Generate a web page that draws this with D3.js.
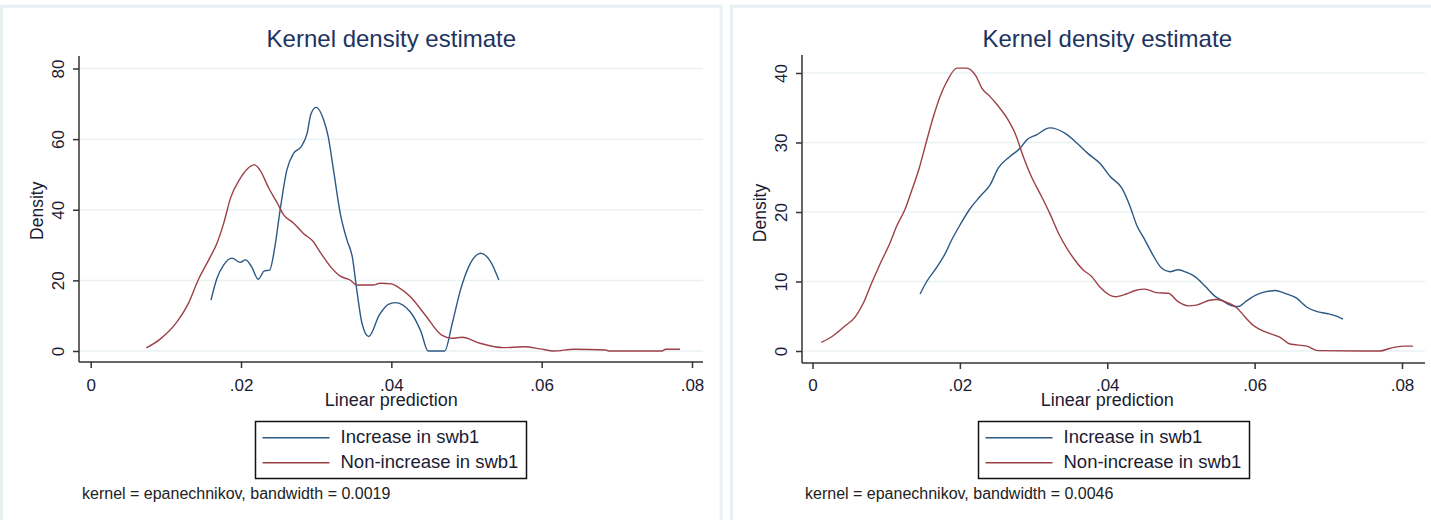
<!DOCTYPE html>
<html lang="en">
<head>
<meta charset="UTF-8">
<title>Kernel density estimate</title>
<script src="https://d3js.org/d3.v7.min.js"></script>
<style>
    body { margin: 0; background: #fff; font-family: "Liberation Sans", Arial, sans-serif; }
    svg text { fill: #1b1b33; }
    .title { font-size: 24px; fill: #1d3461; text-anchor: middle; }
    .axis-title { font-size: 18px; text-anchor: middle; }
    .y-title { font-size: 17.5px; text-anchor: middle; }
    .tick-label { font-size: 17px; }
    .legend-text { font-size: 18.5px; }
    .note { font-size: 16px; fill: #222; }
</style>
</head>
<body>
<div id="chart"></div>
<script>
// x tick values and labels (shared by both panels)
const xTicks = [0, 0.02, 0.04, 0.06, 0.08];
const xTickLabels = ["0", ".02", ".04", ".06", ".08"];

const leftYTicks = [0, 20, 40, 60, 80];
const rightYTicks = [0, 10, 20, 30, 40];

const seriesNames = ["Increase in swb1", "Non-increase in swb1"];
const seriesColors = ["#2c5985", "#9d4047"];

// left panel: bandwidth 0.0019
const leftIncrease = [
    [0.0160,14.4],[0.0168,20.6],[0.0177,24.4],[0.0188,26.3],[0.0199,25.1],[0.0206,25.8],
    [0.0214,23.9],[0.0223,20.3],[0.0231,22.7],[0.0238,22.9],[0.0245,29.5],[0.0252,39.9],
    [0.0261,51.3],[0.0270,56.0],[0.0280,57.9],[0.0288,61.7],[0.0293,67.1],[0.0300,69.0],
    [0.0310,65.4],[0.0316,60.7],[0.0323,51.3],[0.0332,39.0],[0.0341,31.4],[0.0348,26.7],
    [0.0354,17.3],[0.0361,7.8],[0.0370,4.1],[0.0384,10.2],[0.0396,13.2],[0.0405,13.7],
    [0.0425,11.1],[0.0439,5.7],[0.0449,0],[0.0471,0],[0.0481,7.8],[0.0492,17.3],
    [0.0503,23.9],[0.0519,27.7],[0.0532,25.3],[0.0543,20.1]
];
const leftNonIncrease = [
    [0.0074,0.9],[0.0092,3.3],[0.0115,8.3],[0.0130,13.5],[0.0143,20.1],[0.0157,25.8],
    [0.0168,30.5],[0.0177,36.2],[0.0186,43.3],[0.0199,48.9],[0.0208,51.5],[0.0218,52.7],
    [0.0225,51.3],[0.0237,46.1],[0.0248,42.0],[0.0257,38.5],[0.0270,36.2],[0.0283,33.3],
    [0.0296,31.0],[0.0305,28.1],[0.0319,23.9],[0.0332,21.2],[0.0345,20.1],[0.0354,18.7],
    [0.0376,18.7],[0.0385,19.2],[0.0400,19.0],[0.0409,18.1],[0.0425,15.4],[0.0445,10.2],
    [0.0467,4.5],[0.0481,3.6],[0.0494,3.9],[0.0518,2.2],[0.0549,0.95],[0.0576,1.2],
    [0.0598,0.6],[0.0616,0],[0.0643,0.5],[0.0685,0.3],[0.0689,0],[0.0760,0],
    [0.0765,0.5],[0.0784,0.5]
];

// right panel: bandwidth 0.0046
const rightIncrease = [
    [0.0146,8.2],[0.0155,10.0],[0.0169,12.1],[0.0180,14.0],[0.0189,16.0],[0.0200,18.1],
    [0.0214,20.5],[0.0227,22.2],[0.0241,23.9],[0.0252,26.3],[0.0268,28.0],[0.0282,29.2],
    [0.0291,30.4],[0.0304,31.1],[0.0322,32.1],[0.0343,31.3],[0.0359,29.9],[0.0374,28.4],
    [0.0390,27.0],[0.0404,25.1],[0.0420,23.4],[0.0431,20.8],[0.0440,18.1],[0.0451,16.0],
    [0.0462,13.8],[0.0474,11.9],[0.0485,11.4],[0.0496,11.7],[0.0508,11.3],[0.0519,10.7],
    [0.0533,9.3],[0.0546,7.9],[0.0557,7.2],[0.0569,6.5],[0.0578,6.4],[0.0589,7.2],
    [0.0603,8.1],[0.0614,8.5],[0.0628,8.7],[0.0641,8.3],[0.0657,7.6],[0.0671,6.3],
    [0.0684,5.7],[0.0698,5.4],[0.0709,5.1],[0.0720,4.6]
];
const rightNonIncrease = [
    [0.0012,1.25],[0.0028,2.2],[0.0044,3.6],[0.0058,4.9],[0.0069,6.9],[0.0080,9.7],
    [0.0092,12.6],[0.0105,15.5],[0.0114,17.9],[0.0126,20.5],[0.0135,23.2],[0.0144,26.0],
    [0.0154,29.9],[0.0164,33.7],[0.0173,36.6],[0.0182,38.7],[0.0196,40.7],[0.0209,40.7],
    [0.0221,39.7],[0.0230,37.8],[0.0241,36.6],[0.0250,35.5],[0.0264,33.5],[0.0275,31.3],
    [0.0286,28.0],[0.0297,25.1],[0.0311,22.2],[0.0322,19.8],[0.0334,16.9],[0.0345,14.8],
    [0.0356,13.1],[0.0367,11.7],[0.0379,10.7],[0.0390,9.2],[0.0411,7.8],[0.0426,8.2],
    [0.0438,8.7],[0.0451,8.9],[0.0467,8.4],[0.0483,8.3],[0.0496,7.1],[0.0510,6.5],
    [0.0521,6.6],[0.0539,7.3],[0.0548,7.4],[0.0562,7.0],[0.0576,6.2],[0.0587,4.9],
    [0.0598,3.7],[0.0607,3.1],[0.0621,2.5],[0.0634,2.0],[0.0648,1.0],[0.0671,0.7],
    [0.0686,0.05],[0.0770,0],[0.0784,0.4],[0.0802,0.7],[0.0815,0.7]
];

const leftNote = "kernel = epanechnikov, bandwidth = 0.0019";
const rightNote = "kernel = epanechnikov, bandwidth = 0.0046";

const svg = d3.select("#chart").append("svg")
    .attr("width", 1431)
    .attr("height", 520);

function drawPanel(p) {
    const g = svg.append("g").attr("transform", `translate(${p.left},0)`);

    // light frame around the graph region
    g.append("rect")
        .attr("x", 1.5).attr("y", 6.2)
        .attr("width", p.frameWidth).attr("height", 540)
        .attr("fill", "none")
        .attr("stroke", "#e8f0f2")
        .attr("stroke-width", 3);

    const x = d3.scaleLinear().domain([0, 0.08]).range([p.x0, p.x1]);
    const y = d3.scaleLinear().domain([0, p.yMax]).range([351, p.yTop]);

    // gridlines
    g.append("g").selectAll("line")
        .data(p.yTicks)
        .join("line")
        .attr("x1", p.axisX + 1).attr("x2", p.axisRight)
        .attr("y1", d => y(d)).attr("y2", d => y(d))
        .attr("stroke", "#eaf1f3")
        .attr("stroke-width", 1.5);

    const line = d3.line()
        .x(d => x(d[0]))
        .y(d => y(d[1]))
        .curve(d3.curveMonotoneX);

    [p.increase, p.nonIncrease].forEach((s, i) => {
        g.append("path")
            .datum(s)
            .attr("fill", "none")
            .attr("stroke", seriesColors[i])
            .attr("stroke-width", 1.4)
            .attr("d", line);
    });

    // x axis
    const xAxis = g.append("g")
        .attr("transform", `translate(0,${p.axisY})`)
        .call(d3.axisBottom(x).tickValues(xTicks).tickSize(6).tickSizeOuter(0)
            .tickFormat((d, i) => xTickLabels[i]));
    xAxis.select(".domain").attr("d", `M${p.axisX},0H${p.axisRight}`);
    xAxis.selectAll("line, .domain").attr("stroke", "#333").attr("stroke-width", 1.5);
    xAxis.selectAll("text").attr("class", "tick-label").attr("font-family", null)
        .attr("font-size", null).attr("fill", null).attr("dy", null)
        .attr("y", 390.5 - p.axisY);

    // y axis
    const yAxis = g.append("g")
        .attr("transform", `translate(${p.axisX},0)`)
        .call(d3.axisLeft(y).tickValues(p.yTicks).tickSize(6).tickSizeOuter(0));
    yAxis.select(".domain").attr("d", `M0,${p.axisTop}V${p.axisY}`);
    yAxis.selectAll("line, .domain").attr("stroke", "#333").attr("stroke-width", 1.5);
    yAxis.selectAll("text").attr("class", "tick-label").attr("font-family", null)
        .attr("font-size", null).attr("fill", null)
        .attr("x", null).attr("dy", null)
        .attr("text-anchor", "middle")
        .attr("transform", "translate(-15,0) rotate(-90)");

    const cx = (p.x0 + p.x1) / 2;

    g.append("text").attr("class", "title")
        .attr("x", cx).attr("y", 47)
        .text("Kernel density estimate");

    g.append("text").attr("class", "axis-title")
        .attr("x", cx).attr("y", 405.5)
        .text("Linear prediction");

    g.append("text").attr("class", "y-title")
        .attr("transform", `translate(${p.axisX - 36},${(351 + p.yTop) / 2 + 1}) rotate(-90)`)
        .text("Density");

    // legend
    const lg = g.append("g").attr("transform", `translate(${p.legendX},421.5)`);
    lg.append("rect")
        .attr("width", 271).attr("height", 57)
        .attr("fill", "#fff")
        .attr("stroke", "#111")
        .attr("stroke-width", 1.5);
    seriesNames.forEach((name, i) => {
        const ly = 16.3 + i * 25;
        lg.append("line")
            .attr("x1", 7).attr("x2", 74)
            .attr("y1", ly).attr("y2", ly)
            .attr("stroke", seriesColors[i])
            .attr("stroke-width", 1.5);
        lg.append("text").attr("class", "legend-text")
            .attr("x", 85).attr("y", ly + 5.5)
            .text(name);
    });

    g.append("text").attr("class", "note")
        .attr("x", p.axisX + 3).attr("y", 499)
        .text(p.note);
}

drawPanel({
    left: 0, frameWidth: 719.5,
    x0: 90.7, x1: 692, axisX: 79, axisRight: 703, axisTop: 56, axisY: 362,
    yMax: 80, yTop: 68.5, yTicks: leftYTicks,
    increase: leftIncrease, nonIncrease: leftNonIncrease,
    legendX: 255.5, note: leftNote
});

drawPanel({
    left: 730, frameWidth: 720,
    x0: 82.5, x1: 672, axisX: 72, axisRight: 695, axisTop: 55, axisY: 363,
    yMax: 40, yTop: 73, yTicks: rightYTicks,
    increase: rightIncrease, nonIncrease: rightNonIncrease,
    legendX: 248.5, note: rightNote
});
</script>
</body>
</html>
